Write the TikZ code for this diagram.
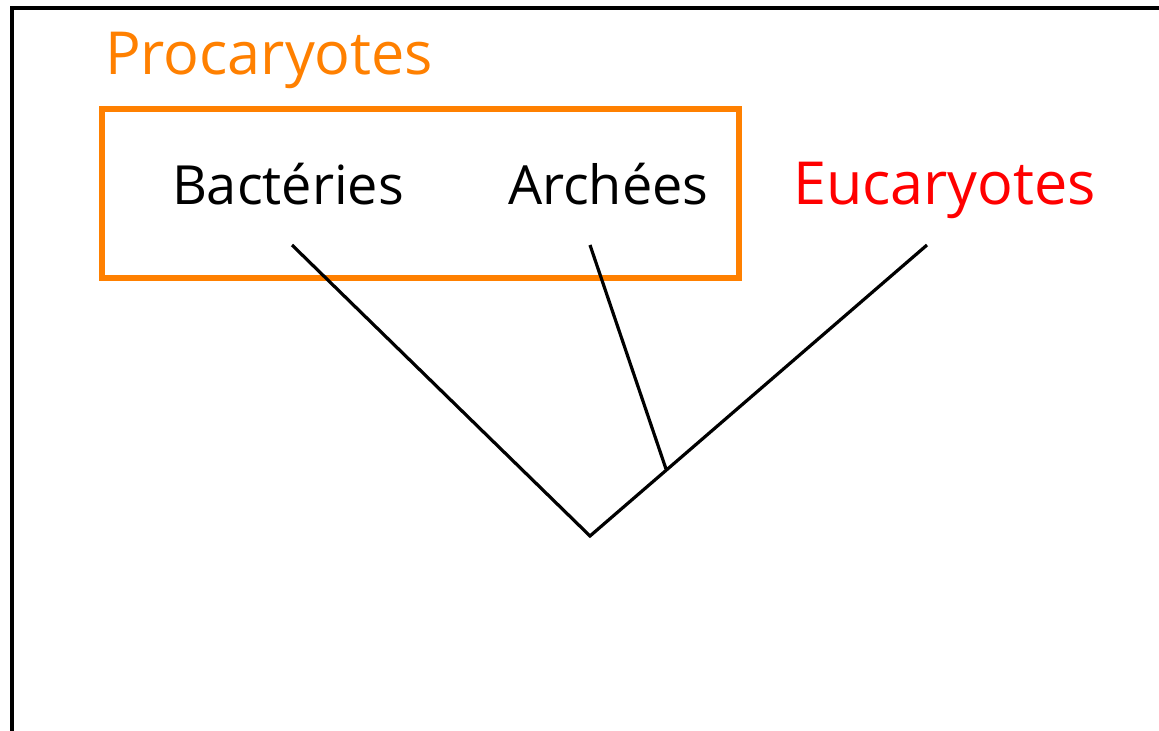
\documentclass[tikz,border=0pt]{standalone}
\usepackage{fontspec}
\setmainfont{Open Sans}
\definecolor{procorange}{RGB}{255,128,0}
\definecolor{eured}{RGB}{255,0,0}
\begin{document}
\begin{tikzpicture}[x=0.75pt,y=-0.75pt,
  label/.style={anchor=base west,inner sep=0pt,outer sep=0pt},
  branch/.style={draw=black,line width=2.4pt,line cap=butt}]
\useasboundingbox (0,0) rectangle (1159,731);
\fill[white] (0,0) rectangle (1159,731);
% frame
\draw[black,line width=3pt] (12,740) -- (12,8) -- (1170,8);
% title
\node[label,text=procorange,font=\fontsize{44.5}{50}\selectfont] (proc) at (105,75) {Procaryotes};
% box
\draw[procorange,line width=4.2pt] (102,109) rectangle (739,278);
% labels
\node[label,font=\fontsize{40.5}{46}\selectfont] (bact) at (172,204) {Bactéries};
\node[label,font=\fontsize{40.5}{46}\selectfont] (arch) at (508,204) {Archées};
\node[label,text=eured,font=\fontsize{44.5}{50}\selectfont] (euca) at (793,204) {Eucaryotes};
% tree
\coordinate (bt) at (292,245);
\coordinate (at) at (590,245);
\coordinate (et) at (927,245);
\coordinate (root) at (590,536);
\coordinate (join) at (666,469);
\draw[branch] (bt) -- (root) -- (et);
\draw[branch] (at) -- (join);
\end{tikzpicture}
\end{document}
